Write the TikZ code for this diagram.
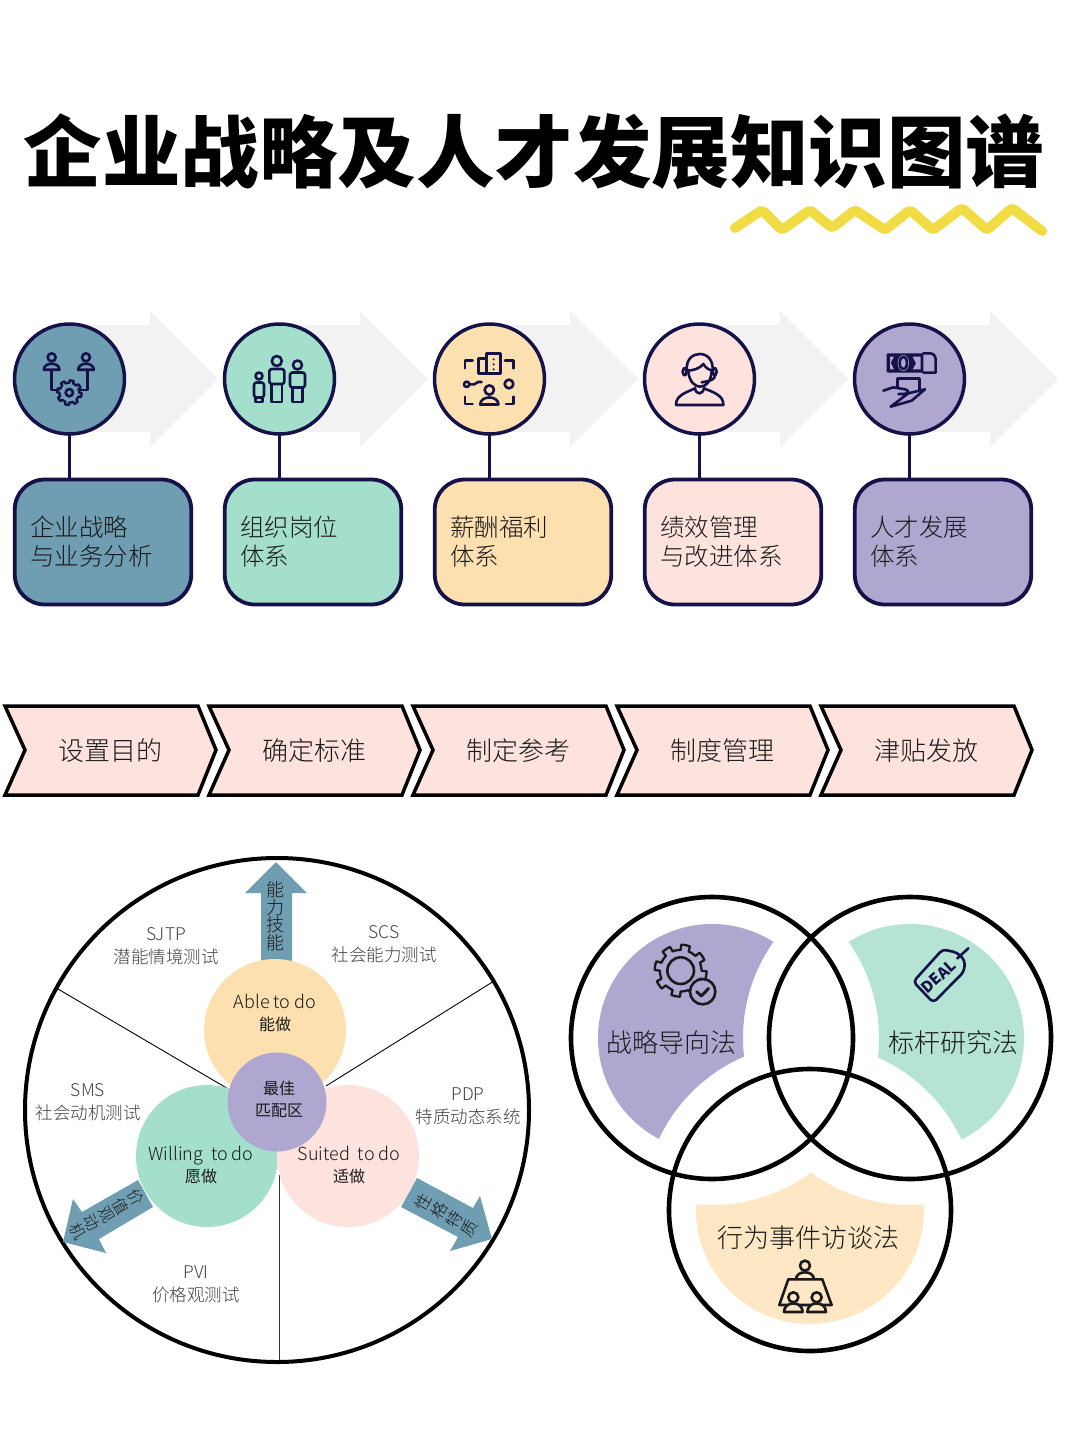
\documentclass[tikz,border=0pt]{standalone}
\usepackage{fontspec}
\usepackage{tikz}
\setmainfont{Noto Sans CJK SC Light}
\newfontfamily\midfont{Noto Sans CJK SC}
\newfontfamily\titlefont{Noto Sans CJK SC Black}
\definecolor{navyline}{HTML}{15124A}
\definecolor{tealtone}{HTML}{6F9DB1}
\definecolor{minttone}{HTML}{A3DFCB}
\definecolor{peachtone}{HTML}{FDE0B0}
\definecolor{pinktone}{HTML}{FDE2DD}
\definecolor{purpletone}{HTML}{AFA7D0}
\definecolor{ventmint}{HTML}{B5E3D4}
\definecolor{ventpeach}{HTML}{FDE7C4}
\definecolor{inktext}{HTML}{1A1A1A}
\definecolor{greytext}{HTML}{404040}
\definecolor{markerline}{HTML}{F1DC45}
\tikzset{
	stagecircle/.style={circle, draw=navyline, line width=3.5pt, minimum size=110pt, inner sep=0pt, outer sep=0pt},
	stagebox/.style={draw=navyline, line width=3.8pt, rounded corners=30pt, minimum width=176.5pt, minimum height=125pt,
		text width=146pt, align=left, inner sep=0pt, outer sep=0pt, text=inktext, font=\fontsize{24.5}{29}\selectfont},
	chevronbox/.style={draw=black, line width=3.5pt, fill=pinktone, line join=miter},
	chevrontext/.style={text=inktext, font=\fontsize{26}{30}\selectfont},
	wheeltext/.style={align=center, text=greytext, font=\fontsize{17.5}{23}\selectfont},
	traitdisc/.style={circle, minimum size=142pt, inner sep=0pt, align=center, text=inktext, font=\fontsize{18}{22}\selectfont},
	traitarrow/.style={fill=tealtone},
	stacktext/.style={align=center, text=inktext},
	venntext/.style={text=inktext, font=\fontsize{26}{30}\selectfont},
	iconline/.style={line width=2.6pt, line join=round, line cap=round},
}
%head and shoulders
\newcommand{\personicon}[3]{
	\draw[iconline] (#1,#2) circle[radius=#3];
	\draw[iconline] (#1-1.95*#3,#2+3.1*#3) .. controls (#1-1.95*#3,#2+1.1*#3) and (#1+1.95*#3,#2+1.1*#3) .. (#1+1.95*#3,#2+3.1*#3) -- cycle;
}
%standing figure
\newcommand{\figureicon}[5]{
	\draw[iconline] (#1,#2) circle[radius=#3];
	\draw[iconline, rounded corners=2.5pt] (#1-#4,#2+#3+18) -- (#1-#4,#2+#3+3) -- (#1+#4,#2+#3+3) -- (#1+#4,#2+#3+18) -- cycle;
	\draw[iconline] (#1-.7*#4,#2+#3+18) -- (#1-.7*#4,#5) -- (#1+.7*#4,#5) -- (#1+.7*#4,#2+#3+18);
}
%toothed wheel
\newcommand{\gearicon}[3]{
	\draw[iconline, line width=2.3pt] plot[samples=241, domain=0:360] ({#1+#3*(sin(8*\x)>0?1:0.8)*cos(\x)}, {#2+#3*(sin(8*\x)>0?1:0.8)*sin(\x)}) -- cycle;
}

\begin{document}
\begin{tikzpicture}[x=1pt, y=-1pt]
	\useasboundingbox (0,0) rectangle (1080,1443);
	%title
	\node[font=\titlefont\fontsize{78.5}{80}\selectfont, text=black] (headline) at (534,152) {企业战略及人才发展知识图谱};
	\draw[markerline, line width=10pt, line cap=round, line join=round, rounded corners=3pt]
		(735,228) -- (762,210) -- (782,230) -- (810,210) -- (832,228) -- (855,210) -- (885,230) -- (910,210) -- (933,230) -- (962,208) -- (987,230) -- (1012,208) -- (1042,231);

	%stages
	\foreach \i/\x/\tone/\texta/\textb in {1/69/tealtone/企业战略/与业务分析, 2/279/minttone/组织岗位/体系, 3/489/peachtone/薪酬福利/体系, 4/699/pinktone/绩效管理/与改进体系, 5/909/purpletone/人才发展/体系} {
		\fill[black!5, xshift=\x pt] (0,325) -- (81,325) -- (81,311) -- (149,379) -- (81,447) -- (81,432) -- (0,432) -- cycle;
		\node[stagecircle, fill=\tone] (circle\i) at (\x+.5,379) {};
		\node[stagebox, fill=\tone] (box\i) at (\x+34,542) {\texta\\\textb};
		\draw[navyline, line width=3.5pt] (circle\i.south) -- (box\i.north -| circle\i.south);
	}

	%icons of the stages
	\begin{scope}[shift={(30,340)}, scale=.3333, color=navyline]
		\personicon{65}{52}{12}
		\personicon{168}{52}{12}
		\draw[iconline] (65,90) -- (65,150) -- (85,150)
			(172,90) -- (172,150) -- (150,150);
		\gearicon{118}{158}{37}
		\draw[iconline] (118,158) circle[radius=11];
	\end{scope}
	\begin{scope}[color=navyline]
		\figureicon{276.8}{361}{5}{7.5}{402}
		\figureicon{297.5}{365}{4.5}{7.5}{402}
		\figureicon{259}{376}{3.5}{5}{402}
	\end{scope}
	\begin{scope}[shift={(450,340)}, scale=.3333, color=navyline]
		\draw[iconline] (110,40) rectangle (152,100)
			(85,55) rectangle (110,100);
		\fill (131,58) circle[radius=3.5] (131,73) circle[radius=3.5] (131,88) circle[radius=3.5];
		\draw[iconline] (45,85) -- (45,62) -- (68,62)
			(165,62) -- (190,62) -- (190,85)
			(45,170) -- (45,192) -- (68,192)
			(168,192) -- (190,192) -- (190,170);
		\draw[iconline] (50,133) circle[radius=8]
			(58,133) -- (72,133) .. controls (80,133) and (78,126) .. (84,126) -- (95,126);
		\draw[iconline] (177,132) circle[radius=13];
		\personicon{118}{150}{14}
	\end{scope}
	\begin{scope}[shift={(660,340)}, scale=.3333, color=navyline]
		\draw[iconline] (80,92) .. controls (78,55) and (100,42) .. (120,42) .. controls (142,42) and (160,60) .. (158,92)
			.. controls (148,90) and (138,85) .. (130,72) .. controls (120,85) and (100,92) .. (80,92);
		\draw[iconline] (85,95) .. controls (88,125) and (105,140) .. (120,140) .. controls (138,140) and (152,125) .. (155,95);
		\draw[iconline, rounded corners=3pt] (68,85) rectangle (80,105)
			(158,85) rectangle (170,105);
		\draw[iconline] (165,105) .. controls (165,118) and (155,122) .. (125,127);
		\draw[iconline] (48,195) .. controls (46,165) and (85,155) .. (105,145) .. controls (108,165) and (128,165) .. (132,145)
			.. controls (155,155) and (192,165) .. (190,195) -- cycle;
	\end{scope}
	\begin{scope}[shift={(870,340)}, scale=.3333, color=navyline]
		\fill[rounded corners=1pt] (50,40) rectangle (160,98);
		\draw[iconline] (160,40) -- (180,40) .. controls (192,40) and (197,50) .. (197,60) -- (197,98) -- (160,98);
		\fill[purpletone] (60,50) -- (72,50) -- (62,68) -- (72,88) -- (60,88) -- cycle
			(100,69) ellipse[x radius=17, y radius=24]
			(128,50) -- (152,50) -- (152,88) -- (128,88) -- (138,70) -- cycle;
		\draw[iconline] (100,69) ellipse[x radius=11, y radius=19];
		\draw[iconline] (82,143) -- (82,115) -- (148,115) -- (148,150);
		\draw[iconline] (40,152) -- (70,142) -- (105,148) .. controls (118,150) and (118,162) .. (100,162) -- (85,162)
			(115,160) -- (165,148) -- (125,182) -- (62,200) -- cycle;
	\end{scope}

	%process
	\foreach \i/\x/\step in {1/0/设置目的, 2/204/确定标准, 3/408/制定参考, 4/612/制度管理, 5/816/津贴发放} {
		\draw[chevronbox, xshift=\x pt] (5,706) -- (198,706) -- (216,750) -- (198,795) -- (5,795) -- (25,750) -- cycle;
		\node[chevrontext] (process\i) at (\x+110.5,750.5) {\step};
	}

	%wheel
	\draw[line width=4pt, black] (277,1110) circle[radius=252];
	\coordinate (spokeA) at (58,989);
	\coordinate (spokeB) at (494,981);
	\coordinate (spokeC) at (279,1360);
	\coordinate (hubA) at (230,1090);
	\coordinate (hubB) at (326,1086);
	\coordinate (hubC) at (279,1175);
	\draw[line width=.9pt] (spokeA) -- (hubA);
	\draw[line width=.9pt] (spokeB) -- (hubB);
	\draw[line width=1pt, black!80] (spokeC) -- (hubC);
	%arrows under the discs
	\fill[traitarrow] (261,965) -- (261,893) -- (245,893) -- (276,862) -- (307,893) -- (292,893) -- (292,965) -- cycle;
	\fill[traitarrow] (138,1180) -- (82,1212) -- (73,1199) -- (63,1242) -- (106,1253) -- (99,1239) -- (153,1207) -- cycle;
	\fill[traitarrow] (417,1178) -- (473,1208) -- (480,1196) -- (492,1239) -- (450,1251) -- (458,1237) -- (401,1207) -- cycle;
	\node[stacktext, font=\fontsize{18}{17.7}\selectfont] (skilltext) at (275,916) {能\\力\\技\\能};
	\node[stacktext, font=\fontsize{16}{16.7}\selectfont, rotate=-60] (valuetext) at (106.5,1214.5) {价\\值\\观\\动\\机};
	\node[stacktext, font=\fontsize{16.5}{17.7}\selectfont, rotate=60] (traittext) at (446.5,1215) {性\\格\\特\\质};
	%discs
	\node[traitdisc, fill=peachtone] (able) at (275,1030) {};
	\node[traitdisc, fill=minttone] (willing) at (207,1156) {};
	\node[traitdisc, fill=pinktone] (suited) at (348,1156) {};
	\node[traitdisc, fill=purpletone, minimum size=99pt] (best) at (277,1102) {};
	\node[align=center, text=inktext, font=\fontsize{18}{22}\selectfont] (abletext) at (275,1013) {Able to do\\{\midfont\fontsize{16}{22}\selectfont 能做}};
	\node[align=center, text=inktext, font=\fontsize{18}{22}\selectfont] (willingtext) at (201,1165) {Willing~ to do\\{\midfont\fontsize{16}{22}\selectfont 愿做}};
	\node[align=center, text=inktext, font=\fontsize{18}{22}\selectfont] (suitedtext) at (349,1165) {Suited~ to do\\{\midfont\fontsize{16}{22}\selectfont 适做}};
	\node[align=center, text=inktext, font=\midfont\fontsize{16}{22}\selectfont] (besttext) at (279,1099) {最佳\\匹配区};
	%tests
	\node[wheeltext] (sjtp) at (166,946.5) {SJTP\\潜能情境测试};
	\node[wheeltext] (scs) at (384,944.5) {SCS\\社会能力测试};
	\node[wheeltext] (sms) at (88,1102.5) {SMS\\社会动机测试};
	\node[wheeltext] (pdp) at (468,1106.5) {PDP\\特质动态系统};
	\node[wheeltext] (pvi) at (196,1284) {PVI\\价格观测试};

	%three circles
	\coordinate (venna) at (712,1038);
	\coordinate (vennb) at (910,1038);
	\coordinate (vennc) at (810,1210);
	\foreach \a/\b/\c/\tone in {venna/vennb/vennc/purpletone, vennb/venna/vennc/ventmint, vennc/venna/vennb/ventpeach} {
		\begin{scope}[even odd rule]
			\clip (0,0) rectangle (1080,1443) (\b) circle[radius=167];
			\clip (0,0) rectangle (1080,1443) (\c) circle[radius=167];
			\fill[\tone] (\a) circle[radius=114];
		\end{scope}
	}
	\foreach \a in {venna, vennb, vennc}
		\draw[line width=4.6pt, black] (\a) circle[radius=141];
	\node[venntext] (strategy) at (671,1043) {战略导向法};
	\node[venntext] (benchmark) at (953,1043) {标杆研究法};
	\node[venntext] (interview) at (808,1238) {行为事件访谈法};
	%gear and tick
	\begin{scope}[shift={(560,890)}, scale=.3333, color=inktext]
		\gearicon{362}{242}{78}
		\draw[iconline] (362,242) circle[radius=40];
		\draw[iconline, fill=purpletone] (428,305) circle[radius=38];
		\draw[iconline, line width=3pt] (410,305) -- (424,318) -- (446,295);
		%table
		\draw[iconline] (735,1127) circle[radius=15];
		\draw[iconline] (708,1168) .. controls (708,1140) and (762,1140) .. (762,1168);
		\draw[iconline] (685,1168) -- (787,1168) -- (815,1245) -- (658,1245) -- cycle;
		\draw[iconline, fill=ventpeach] (700,1222) circle[radius=15];
		\draw[iconline, fill=ventpeach] (770,1222) circle[radius=15];
		\draw[iconline, fill=ventpeach] (672,1266) .. controls (672,1232) and (728,1232) .. (728,1266) -- cycle;
		\draw[iconline, fill=ventpeach] (742,1266) .. controls (742,1232) and (798,1232) .. (798,1266) -- cycle;
	\end{scope}
	%price tag
	\begin{scope}[shift={(900,940)}, scale=.3333, color=navyline]
		\draw[iconline, rounded corners=4pt] (40,125) -- (128,28) -- (172,38) -- (195,62) -- (192,95) -- (100,188) -- cycle;
		\draw[iconline] (172,55) -- (205,25);
		\node[rotate=42, font=\midfont\bfseries\fontsize{15.5}{15.5}\selectfont, text=navyline] (dealtext) at (116,110) {DEAL};
	\end{scope}
\end{tikzpicture}
\end{document}
